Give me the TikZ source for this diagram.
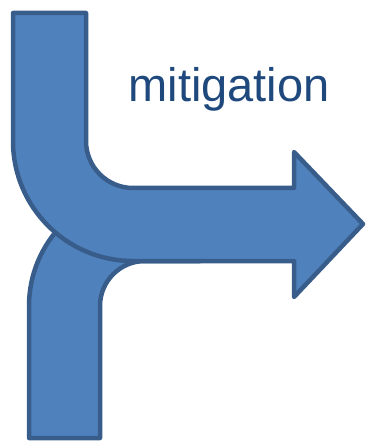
\documentclass[tikz,border=0pt]{standalone}
\usepackage{fontspec}
\setmainfont{Liberation Sans}
\usepackage{tikz}
\definecolor{shapefill}{RGB}{79,129,189}
\definecolor{shapeline}{RGB}{56,93,138}
\definecolor{textblue}{RGB}{31,73,125}

\begin{document}
\begin{tikzpicture}[
x=1pt, y=-1pt,
bentshape/.style={fill=shapefill, draw=shapeline, line width=4.5pt, line join=round},
caption/.style={text=textblue, font=\fontsize{47}{50}\selectfont, inner sep=0pt}
]
\useasboundingbox (0,0) rectangle (366,443);
% lower branch, partly hidden
\draw[bentshape] (29,438) -- (29,306) arc[start angle=180, end angle=90, radius=116pt]
  -- (200,190) -- (200,261) -- (145,261) arc[start angle=90, end angle=180, radius=45pt]
  -- (100,438) -- cycle;
% upper branch with arrow head
\draw[bentshape] (13,13) -- (86,13) -- (86,141) arc[start angle=180, end angle=270, radius=47pt]
  -- (294,188) -- (294,152) -- (363,224) -- (294,297) -- (294,261)
  -- (133,261) arc[start angle=270, end angle=180, radius=120pt] -- cycle;
\node[caption, anchor=base] (mitigation) at (229,102) {mitigation};
\end{tikzpicture}
\end{document}
